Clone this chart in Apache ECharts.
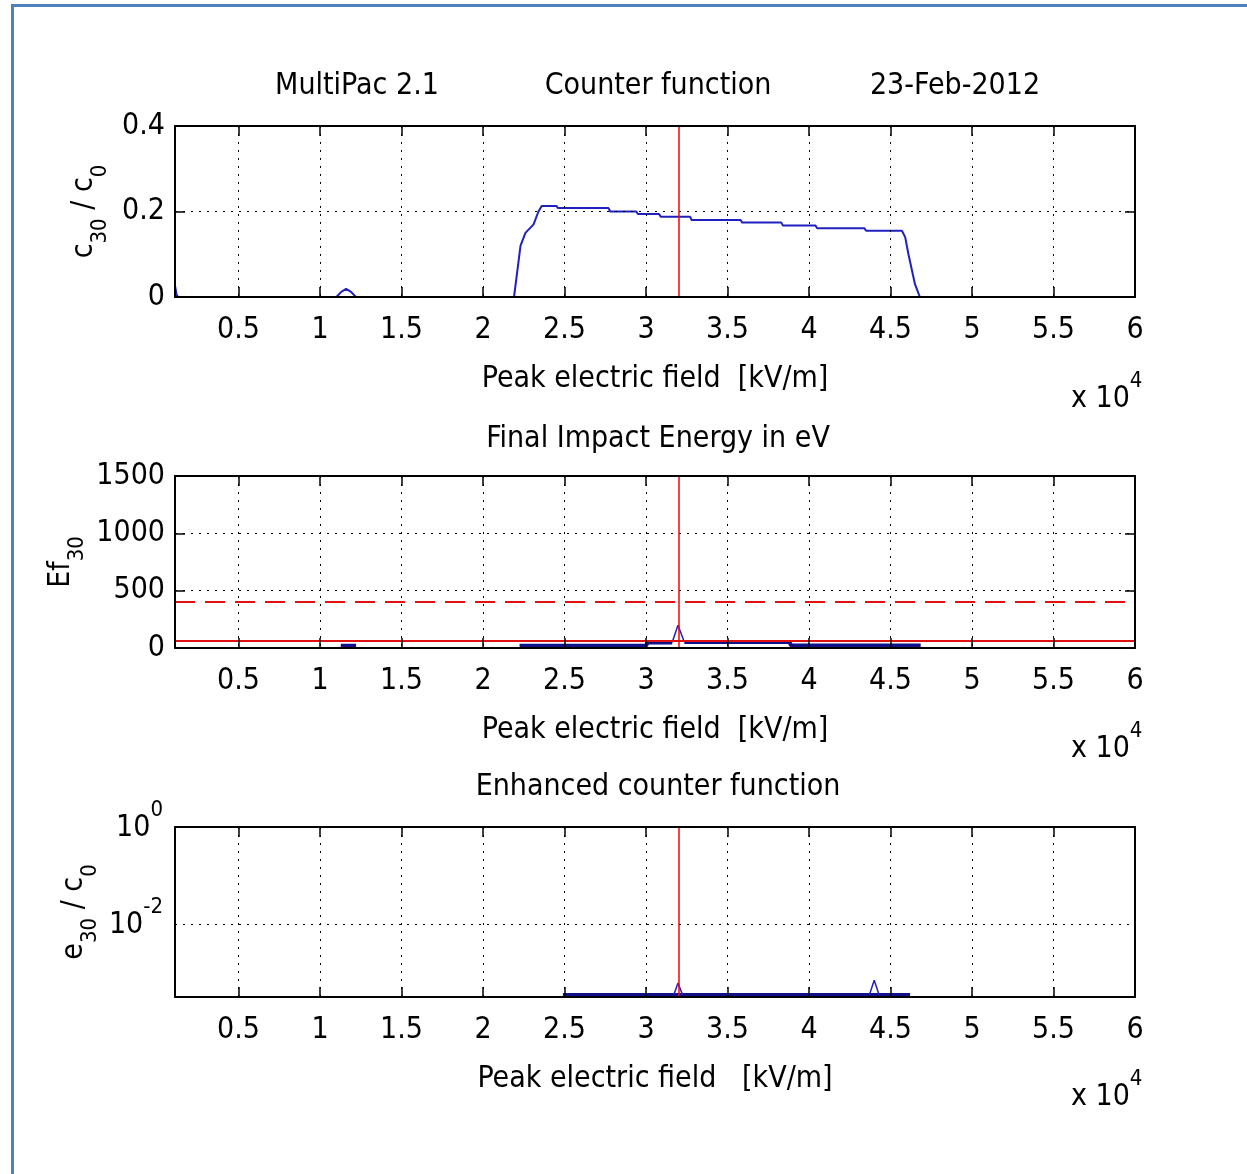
<!DOCTYPE html>
<html><head><meta charset="utf-8">
<script src="https://cdn.jsdelivr.net/npm/echarts@6/dist/echarts.min.js"></script>
<style>
html,body{margin:0;padding:0;background:#fff;}
#chart{position:absolute;left:0;top:0;width:1247px;height:1174px;}
#bt{position:absolute;left:11px;top:4px;width:1236px;height:3px;background:#4f81bd;}
#bl{position:absolute;left:11px;top:4px;width:3px;height:1170px;background:#4f81bd;}
</style></head><body>
<div id="chart"></div><div id="bt"></div><div id="bl"></div>
<script>
// ---- data (x in units of 10^4 kV/m) ----
const fieldRange = [0.11, 6];
const counterX = [0.11, 0.12, 0.13, 1.10, 1.13, 1.16, 1.19, 1.22, 2.19, 2.21, 2.23, 2.26, 2.31, 2.34, 2.36, 2.45, 2.46, 2.77, 2.78, 2.94, 2.95, 3.08, 3.09, 3.27, 3.28, 3.58, 3.59, 3.83, 3.84, 4.04, 4.05, 4.34, 4.35, 4.57, 4.59, 4.61, 4.65, 4.68, 6.0];
const counterY = [0.027, 0.005, 0, 0, 0.012, 0.019, 0.012, 0, 0, 0.06, 0.12, 0.15, 0.17, 0.20, 0.213, 0.213, 0.208, 0.208, 0.200, 0.200, 0.194, 0.194, 0.188, 0.188, 0.180, 0.180, 0.174, 0.174, 0.167, 0.167, 0.161, 0.161, 0.155, 0.155, 0.14, 0.10, 0.03, 0, 0];
const energyFlatX = [1.127, 1.221, 1.221, 2.224, 3.00, 3.01, 3.16, 3.16, 3.235, 3.88, 3.89, 4.685];
const energyFlatY = [20, 20, null, 20, 20, 48, 48, null, 52, 52, 22, 22];
const energySpikeX = [3.16, 3.196, 3.235];
const energySpikeY = [48, 198, 52];
const enhancedFlatX = [2.49, 4.62];
const enhancedFlatY = [3.4e-4, 3.4e-4];
const enhancedSpikeX = [3.17, 3.196, 3.225, 3.225, 4.37, 4.40, 4.43];
const enhancedSpikeY = [3.4e-4, 6.0e-4, 3.4e-4, null, 3.4e-4, 6.9e-4, 3.4e-4];
const markerField = 3.2;
const energyDashedLevel = 400;
const energySolidLevel = 65;
const logGridLevel = 0.01;
const topTitles = ['MultiPac 2.1', 'Counter function', '23-Feb-2012'];
const panelTitles = ['Final Impact Energy in eV', 'Enhanced counter function'];
const xNames = ['Peak electric field  [kV/m]', 'Peak electric field  [kV/m]', 'Peak electric field   [kV/m]'];
const yNames = ['{m|c}{s|30}{m| / c}{s|0}', '{m|Ef}{s|30}', '{m|e}{s|30}{m| / c}{s|0}'];
const yRanges = [[0, 0.4, 0.2], [0, 1500, 500]];
const logRange = [3.1e-4, 1];

// ---- styling ----
const FONT = "'Liberation Sans Narrow','DejaVu Sans Condensed','Liberation Sans',sans-serif";
const FS = 30;
const pairs = (xs, ys) => xs.map((x, i) => [x, ys[i]]);
const grids = [
  {left: 175, width: 960, top: 126, height: 171},
  {left: 175, width: 960, top: 476, height: 172},
  {left: 175, width: 960, top: 827, height: 170}
];
const fmtX = v => { const r = Math.round(v * 2) / 2; return Math.abs(v - r) < 1e-6 ? String(r) : ''; };
const fmtY = v => String(v);
const fmtLog = v => { const e = Math.log10(v); const r = Math.round(e); if (Math.abs(e - r) > 1e-6 || r % 2 !== 0) return ''; return '{b|10}{s|' + r + '}'; };
const supRich = {
  a: {fontFamily: FONT, fontSize: FS, fontWeight: 'normal', lineHeight: 44, verticalAlign: 'bottom', color: '#000'},
  b: {fontFamily: FONT, fontSize: FS, fontWeight: 'normal', lineHeight: 44, verticalAlign: 'bottom', color: '#000'},
  s: {fontFamily: FONT, fontSize: 22, fontWeight: 'normal', lineHeight: 22, verticalAlign: 'top', color: '#000'}
};
const subRich = {
  m: {fontFamily: FONT, fontSize: FS, fontWeight: 'normal', lineHeight: 42, verticalAlign: 'top', color: '#000'},
  s: {fontFamily: FONT, fontSize: 22, fontWeight: 'normal', lineHeight: 22, verticalAlign: 'bottom', color: '#000'}
};
const dotted = {color: '#000', type: [2, 6], width: 1};

const xAxis = [], yAxis = [];
grids.forEach((g, i) => {
  xAxis.push({
    type: 'value', gridIndex: i, position: 'bottom', min: fieldRange[0], max: fieldRange[1],
    minInterval: 0.5, maxInterval: 0.5, splitNumber: 12, z: 5,
    axisLine: {show: true, onZero: false, lineStyle: {color: '#000', width: 2}},
    axisTick: {show: true, inside: true, length: 10, lineStyle: {color: '#000', width: 1.5}},
    axisLabel: {margin: 18, fontFamily: FONT, fontSize: FS, color: '#000', formatter: fmtX},
    splitLine: {show: true, showMinLine: false, showMaxLine: false, lineStyle: dotted},
    name: xNames[i], nameLocation: 'middle', nameGap: 67, nameMoveOverlap: false,
    nameTextStyle: {fontFamily: FONT, fontSize: FS, color: '#000'}
  });
  xAxis.push({
    type: 'value', gridIndex: i, position: 'top', min: fieldRange[0], max: fieldRange[1],
    minInterval: 0.5, maxInterval: 0.5, splitNumber: 12, z: 5,
    axisLine: {show: true, onZero: false, lineStyle: {color: '#000', width: 2}},
    axisTick: {show: true, inside: true, length: 10, lineStyle: {color: '#000', width: 1.5}},
    axisLabel: {show: false}, splitLine: {show: false}
  });
});
const yNameGaps = [64, 87, 74];
for (let i = 0; i < 2; i++) {
  const r = yRanges[i];
  yAxis.push({
    type: 'value', gridIndex: i, position: 'left', min: r[0], max: r[1], interval: r[2], z: 5,
    axisLine: {show: true, onZero: false, lineStyle: {color: '#000', width: 2}},
    axisTick: {show: true, inside: true, length: 10, lineStyle: {color: '#000', width: 1.5}},
    axisLabel: {margin: 10, fontFamily: FONT, fontSize: FS, color: '#000', formatter: fmtY},
    splitLine: {show: true, showMinLine: false, showMaxLine: false, lineStyle: dotted},
    name: yNames[i], nameLocation: 'middle', nameGap: yNameGaps[i], nameRotate: 90, nameMoveOverlap: false,
    nameTextStyle: {rich: subRich}
  });
  yAxis.push({
    type: 'value', gridIndex: i, position: 'right', min: r[0], max: r[1], interval: r[2], z: 5,
    axisLine: {show: true, onZero: false, lineStyle: {color: '#000', width: 2}},
    axisTick: {show: true, inside: true, length: 10, lineStyle: {color: '#000', width: 1.5}},
    axisLabel: {show: false}, splitLine: {show: false}
  });
}
yAxis.push({
  type: 'log', logBase: 10, gridIndex: 2, position: 'left', min: logRange[0], max: logRange[1], z: 5,
  axisLine: {show: true, onZero: false, lineStyle: {color: '#000', width: 2}},
  axisTick: {show: false},
  axisLabel: {margin: 12, formatter: fmtLog, rich: supRich, padding: [0, 0, 12, 0]},
  splitLine: {show: false},
  name: yNames[2], nameLocation: 'middle', nameGap: yNameGaps[2], nameRotate: 90, nameMoveOverlap: false,
  nameTextStyle: {rich: subRich}
});
yAxis.push({
  type: 'log', logBase: 10, gridIndex: 2, position: 'right', min: logRange[0], max: logRange[1], z: 5,
  axisLine: {show: true, onZero: false, lineStyle: {color: '#000', width: 2}},
  axisTick: {show: false}, axisLabel: {show: false}, splitLine: {show: false}
});

const redV = {xAxis: markerField, lineStyle: {color: '#ff0000', width: 1.5, type: 'solid'}};
const mlBase = {symbol: 'none', silent: true, label: {show: false}, animation: false};

const titleStyle = {fontFamily: FONT, fontSize: FS, fontWeight: 'normal', color: '#000', lineHeight: FS};
const supTitle = {fontWeight: 'normal', rich: supRich};
const title = [
  {text: topTitles[0], left: 352, top: 66, textAlign: 'center', textStyle: titleStyle},
  {text: topTitles[1], left: 653, top: 66, textAlign: 'center', textStyle: titleStyle},
  {text: topTitles[2], left: 950, top: 66, textAlign: 'center', textStyle: titleStyle},
  {text: panelTitles[0], left: 653, top: 419, textAlign: 'center', textStyle: titleStyle},
  {text: panelTitles[1], left: 653, top: 767, textAlign: 'center', textStyle: titleStyle},
  {text: '{a|x }{b|10}{s|4}', left: 1066, top: 365, textStyle: supTitle},
  {text: '{a|x }{b|10}{s|4}', left: 1066, top: 715, textStyle: supTitle},
  {text: '{a|x }{b|10}{s|4}', left: 1066, top: 1063, textStyle: supTitle}
];

const option = {
  animation: false,
  backgroundColor: '#fff',
  title: title,
  grid: grids.map(g => Object.assign({outerBoundsMode: 'none', containLabel: false}, g)),
  xAxis: xAxis,
  yAxis: yAxis,
  series: [
    {type: 'line', xAxisIndex: 0, yAxisIndex: 0, data: pairs(counterX, counterY), showSymbol: false, z: 3,
     lineStyle: {color: '#2020c0', width: 2},
     markLine: Object.assign({data: [redV]}, mlBase)},
    {type: 'line', xAxisIndex: 2, yAxisIndex: 2, data: pairs(energyFlatX, energyFlatY), showSymbol: false, z: 3,
     connectNulls: false, lineStyle: {color: '#10108a', width: 4},
     markLine: Object.assign({data: [
       redV,
       {yAxis: energyDashedLevel, lineStyle: {color: '#e01010', width: 2, type: [20, 10]}},
       {yAxis: energySolidLevel, lineStyle: {color: '#e01010', width: 2, type: 'solid'}}
     ]}, mlBase)},
    {type: 'line', xAxisIndex: 2, yAxisIndex: 2, data: pairs(energySpikeX, energySpikeY), showSymbol: false, z: 3,
     lineStyle: {color: '#2020c0', width: 1.5}},
    {type: 'line', xAxisIndex: 4, yAxisIndex: 4, data: pairs(enhancedFlatX, enhancedFlatY), showSymbol: false, z: 3,
     lineStyle: {color: '#10108a', width: 4},
     markLine: Object.assign({data: [
       redV,
       {yAxis: logGridLevel, lineStyle: dotted}
     ]}, mlBase)},
    {type: 'line', xAxisIndex: 4, yAxisIndex: 4, data: pairs(enhancedSpikeX, enhancedSpikeY), showSymbol: false, z: 3,
     connectNulls: false, lineStyle: {color: '#2020c0', width: 1.5}}
  ]
};
const chart = echarts.init(document.getElementById('chart'), null, {renderer: 'canvas'});
chart.setOption(option);
</script></body></html>
